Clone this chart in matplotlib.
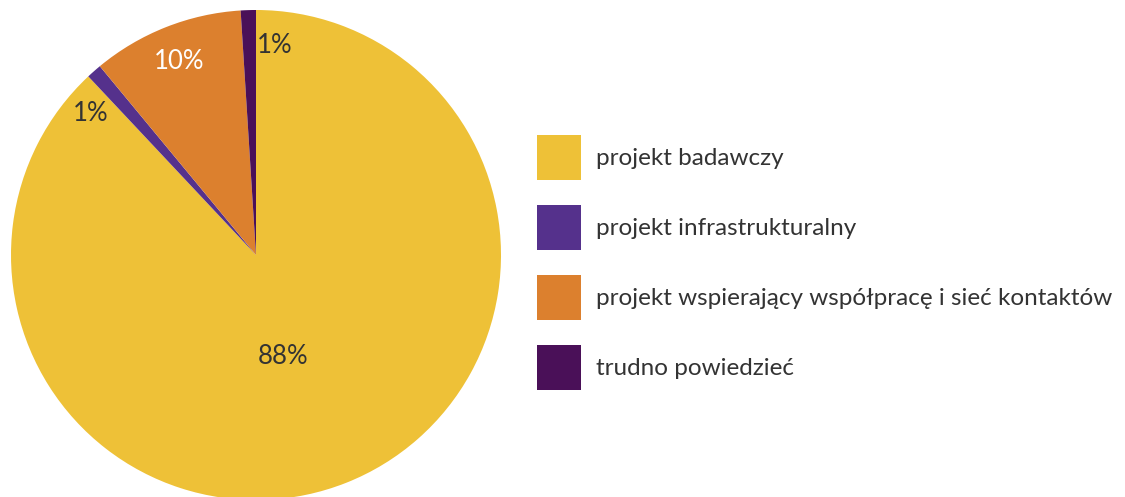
import matplotlib
matplotlib.use("Agg")
import matplotlib.pyplot as plt
import numpy as np

labels = [
    "projekt badawczy",
    "projekt infrastrukturalny",
    "projekt wspierający współpracę i sieć kontaktów",
    "trudno powiedzieć",
]
shares = [88, 1, 10, 1]
colors = ["#EEC137", "#55318C", "#DC802E", "#4A1058"]
pct_colors = ["#333333", "#333333", "#FFFFFF", "#333333"]
# radial position of each percent label (fraction of radius) and angular nudge in degrees
pct_radius = [0.43, 0.89, 0.85, 0.86]
pct_nudge = [-6.6, 8, 0, -7]

plt.rcParams["font.family"] = ["Lato", "DejaVu Sans"]


def main():
    W, H = 1125, 497
    fig = plt.figure(figsize=(W / 100, H / 100), dpi=100)
    cx, cy, r = 256, 242, 245
    ax = fig.add_axes([(cx - r) / W, (cy - r) / H, 2 * r / W, 2 * r / H])
    wedges, _ = ax.pie(shares, colors=colors, startangle=90, counterclock=False,
                       radius=1.0, wedgeprops=dict(linewidth=0))
    ax.set_xlim(-1, 1)
    ax.set_ylim(-1, 1)
    ax.set_aspect("equal")
    ax.axis("off")

    for w, val, c, rr, nudge in zip(wedges, shares, pct_colors, pct_radius, pct_nudge):
        ang = np.deg2rad((w.theta1 + w.theta2) / 2 + nudge)
        ax.text(rr * np.cos(ang), rr * np.sin(ang), f"{val}%", ha="center", va="center",
                fontsize=18.5, color=c)

    # legend squares are 44x45 px, rows 70 px apart
    fs = 17.5
    px = fs * 100 / 72
    hh = (45 - 0.245 * px) / (0.65 * px)
    fig.legend(wedges, labels, loc="upper left",
               bbox_to_anchor=(537 / W, (H - 135) / H),
               frameon=False, fontsize=fs, labelcolor="#333333",
               borderpad=0, borderaxespad=0,
               handlelength=44 / px, handleheight=hh,
               handletextpad=15 / px, labelspacing=25 / px)

    fig.savefig("out.png", dpi=100, facecolor="white")


if __name__ == '__main__':
    main()
